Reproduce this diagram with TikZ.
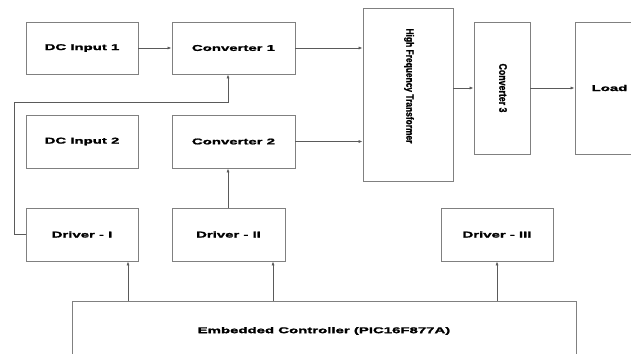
\documentclass[tikz,border=0pt]{standalone}
\usepackage{fontspec}
\usetikzlibrary{arrows.meta}
\newfontfamily\widebf[FakeStretch=1.78,FakeBold=1.8]{Liberation Sans Bold}
\newfontfamily\plainbf[FakeBold=1.5]{Liberation Sans Bold}
\definecolor{boxline}{HTML}{808080}
\definecolor{wire}{HTML}{5A5A5A}
\newcommand{\tallify}[1]{\scalebox{1}[1.25]{#1}}
\begin{document}
\begin{tikzpicture}[x=1pt,y=-1pt,
  blk/.style={draw=boxline,line width=0.8pt,fill=white,inner sep=0pt,
    font=\widebf\fontsize{8.4}{10}\selectfont,text=black},
  vblk/.style={draw=boxline,line width=0.8pt,fill=white,inner sep=0pt},
  vtext/.style={rotate=-90,inner sep=0pt,text=black},
  wire/.style={draw=wire,line width=0.7pt,-{Latex[length=4pt,width=3pt]}}]
\useasboundingbox (0,0) rectangle (631,353);
\fill[white] (0,0) rectangle (631,353);
% boxes
\node[blk,minimum width=112pt,minimum height=52pt] (dc1) at (82,48) {DC Input 1};
\node[blk,minimum width=123pt,minimum height=52pt] (c1) at (233.5,48) {Converter 1};
\node[blk,minimum width=112pt,minimum height=53pt] (dc2) at (82,141.5) {DC Input 2};
\node[blk,minimum width=123pt,minimum height=53pt] (c2) at (233.5,141.5) {Converter 2};
\node[vblk,minimum width=90pt,minimum height=173pt] (hft) at (408,94.5) {};
\node[vtext,font=\plainbf\fontsize{8.4}{10}\selectfont] (hftt) at (409,86) {\tallify{High Frequency Transformer}};
\node[vblk,minimum width=56pt,minimum height=132pt] (c3) at (502,88) {};
\node[vtext,font=\plainbf\fontsize{8.8}{10}\selectfont] (c3t) at (503,88) {\tallify{Converter 3}};
\node[blk,minimum width=69pt,minimum height=132pt] (load) at (609.5,88) {Load};
\node[blk,minimum width=112pt,minimum height=53pt] (d1) at (82,234.5) {Driver - I};
\node[blk,minimum width=113pt,minimum height=53pt] (d2) at (228.5,234.5) {Driver - II};
\node[blk,minimum width=112pt,minimum height=53pt] (d3) at (497,234.5) {Driver - III};
\node[blk,minimum width=504pt,minimum height=60pt] (ctrl) at (324,331) {Embedded Controller (PIC16F877A)};
% connectors
\coordinate (fbA) at (14,234.5);
\coordinate (fbB) at (14,102);
\coordinate (fbC) at (228,102);
\coordinate (x1) at (128,0);
\coordinate (x2) at (273,0);
\draw[wire] (dc1.east) -- (c1.west);
\draw[wire] (c1.east) -- (c1.east -| hft.west);
\draw[wire] (c2.east) -- (c2.east -| hft.west);
\draw[wire] (hft.east |- c3.west) -- (c3.west);
\draw[wire] (c3.east) -- (load.west);
\draw[wire] (d1.west) -- (fbA) -- (fbB) -- (fbC) -- (fbC |- c1.south);
\draw[wire] (d2.north -| fbC) -- (c2.south -| fbC);
\draw[wire] (x1 |- ctrl.north) -- (x1 |- d1.south);
\draw[wire] (x2 |- ctrl.north) -- (x2 |- d2.south);
\draw[wire] (d3.south |- ctrl.north) -- (d3.south);
\end{tikzpicture}
\end{document}
